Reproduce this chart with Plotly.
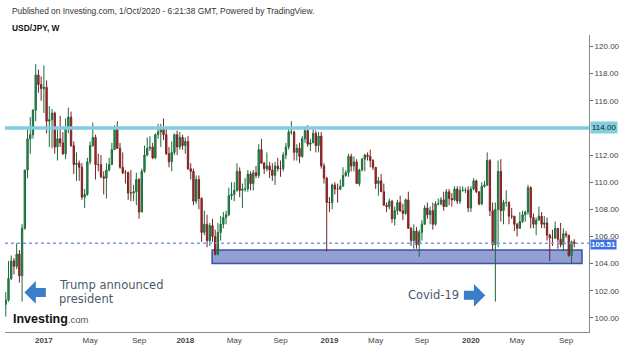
import pandas as pd
import plotly.graph_objects as go

# ---------------- data (weekly USD/JPY) ----------------
opens = [
    101.0, 101.3, 102.9, 104.2, 103.8, 104.7, 103.1, 106.6, 110.9, 113.2, 113.5, 115.3, 117.9, 117.2,
    116.9, 117.0, 114.5, 114.6, 115.1, 112.6, 113.2, 112.9, 112.1, 114.0, 114.8, 112.7, 111.3,
    111.4, 111.1, 108.9, 109.1, 111.5, 112.7, 113.3, 111.3, 111.3, 110.4, 110.3, 110.9, 111.3,
    112.4, 113.9, 112.5, 111.1, 110.7, 110.7, 109.2, 109.2, 109.3, 110.2, 107.8, 110.8, 112.0,
    112.5, 112.6, 111.8, 113.5, 113.7, 114.0, 113.5, 112.1, 111.5, 112.2, 113.5, 112.6, 113.3,
    112.7, 113.0, 111.0, 110.8, 108.6, 110.2, 108.8, 106.3, 106.9, 105.7, 106.8, 106.0, 104.7,
    106.3, 106.9, 107.4, 107.6, 109.0, 109.1, 109.4, 110.8, 109.4, 109.5, 109.5, 110.6, 109.9,
    110.7, 110.5, 112.4, 111.4, 111.0, 111.2, 110.9, 110.5, 111.2, 111.0, 111.0, 112.0, 112.6,
    113.7, 113.7, 112.2, 112.5, 111.9, 113.2, 113.8, 112.8, 112.9, 113.6, 112.7, 113.4, 111.2,
    110.3, 108.5, 108.5, 109.8, 109.5, 109.5, 109.7, 110.5, 110.7, 111.9, 111.2, 111.5, 109.9,
    110.9, 111.7, 112.0, 111.9, 111.6, 111.1, 109.9, 110.1, 109.3, 108.3, 108.2, 108.6, 107.3,
    107.9, 108.5, 107.9, 107.7, 108.7, 106.6, 105.7, 106.4, 105.4, 106.3, 106.9, 108.1, 107.6, 107.9,
    106.9, 108.4, 108.4, 108.7, 108.2, 109.3, 108.8, 108.7, 109.5, 108.6, 109.4, 109.4, 109.4,
    108.1, 109.5, 110.1, 109.3, 108.4, 109.7, 109.8, 111.6, 107.9, 105.4, 108.0, 110.8, 107.9,
    108.5, 108.5, 107.5, 107.5, 106.9, 106.6, 107.1, 107.6, 107.8, 109.6, 107.4, 106.9, 107.2,
    107.5, 106.9, 107.0, 106.1, 105.9, 105.9, 106.6, 105.8, 105.4, 106.2, 106.1, 104.6, 105.6,
]
highs = [
    101.9, 104.2, 104.6, 104.4, 105.5, 105.0, 106.9, 110.9, 113.9, 114.8, 115.4, 118.7, 118.3, 117.8,
    118.6, 117.5, 115.6, 115.4, 115.2, 113.9, 114.9, 113.7, 114.7, 115.5, 115.2, 113.0, 112.2,
    111.6, 111.4, 109.5, 111.8, 113.0, 114.4, 113.5, 112.1, 112.0, 110.8, 111.4, 111.8, 112.9,
    114.2, 114.5, 112.9, 112.2, 110.9, 110.8, 110.9, 109.8, 110.7, 110.3, 111.0, 112.7, 113.3,
    113.4, 112.9, 113.6, 114.3, 114.3, 114.7, 113.9, 112.6, 113.0, 113.6, 113.8, 113.7, 113.5,
    113.3, 113.4, 111.4, 111.0, 110.5, 110.5, 108.9, 107.9, 107.6, 107.0, 107.3, 106.5, 107.0,
    107.5, 107.8, 107.9, 109.6, 110.0, 110.0, 111.4, 111.1, 109.9, 110.3, 110.9, 110.8, 110.9,
    111.2, 112.8, 113.2, 111.5, 112.2, 111.5, 111.4, 111.5, 111.8, 111.6, 112.2, 112.9, 114.0,
    114.5, 113.8, 112.8, 112.9, 113.4, 114.1, 114.2, 113.2, 114.0, 113.8, 113.7, 113.7, 111.4,
    110.4, 108.9, 109.9, 110.0, 109.9, 110.2, 111.1, 110.9, 112.1, 112.1, 111.9, 111.7, 111.0,
    111.8, 112.1, 112.2, 112.4, 111.7, 111.1, 110.4, 110.6, 109.9, 108.5, 108.8, 108.7, 108.2,
    108.7, 109.0, 108.4, 108.8, 109.3, 106.7, 106.9, 106.7, 106.5, 107.2, 108.3, 108.5, 108.2, 108.5,
    108.6, 108.8, 108.9, 109.3, 109.5, 109.5, 109.2, 109.7, 109.7, 109.7, 109.7, 109.6, 109.7,
    109.7, 110.3, 110.2, 109.3, 110.0, 110.1, 112.2, 111.7, 108.5, 108.5, 111.6, 111.7, 108.7,
    109.4, 108.6, 108.1, 107.5, 107.0, 107.8, 107.9, 107.9, 109.8, 109.7, 107.7, 107.4, 108.2,
    107.8, 107.5, 107.4, 106.2, 106.5, 107.1, 106.6, 107.0, 106.6, 106.4, 106.1, 105.7, 105.8,
]
lows = [
    100.1, 101.2, 102.8, 103.2, 103.6, 102.6, 101.2, 106.5, 110.3, 112.1, 113.2, 114.5, 116.6, 116.0,
    115.1, 113.6, 112.6, 112.5, 112.1, 111.6, 112.6, 112.0, 111.7, 113.6, 112.6, 110.6, 110.1,
    110.1, 108.7, 108.1, 109.0, 111.3, 112.6, 110.2, 110.8, 110.3, 109.1, 108.8, 110.8, 111.3,
    112.4, 112.5, 111.0, 110.6, 109.9, 108.7, 108.6, 108.6, 108.3, 107.3, 107.8, 110.7, 111.9,
    112.3, 111.7, 111.7, 113.2, 112.6, 113.1, 112.0, 111.1, 110.8, 112.0, 112.0, 112.4, 112.4,
    112.1, 110.9, 110.2, 108.3, 108.4, 108.0, 105.6, 106.1, 105.2, 105.3, 105.6, 104.6, 104.6,
    105.7, 106.6, 106.9, 107.5, 108.7, 108.6, 109.3, 108.9, 108.1, 109.3, 109.3, 109.4, 109.4,
    110.3, 110.3, 111.4, 110.6, 110.8, 110.3, 110.1, 109.8, 110.8, 110.4, 110.8, 111.7, 112.4,
    113.5, 111.6, 111.6, 111.4, 111.8, 112.9, 112.6, 112.3, 112.9, 112.2, 112.2, 111.0, 109.9,
    104.9, 107.8, 108.0, 109.1, 108.5, 109.4, 109.7, 110.4, 110.4, 110.8, 110.8, 109.9, 109.7,
    110.8, 110.8, 111.6, 111.1, 110.9, 109.5, 109.0, 109.3, 108.3, 107.8, 108.0, 107.0, 106.8,
    107.6, 107.8, 107.2, 107.6, 106.6, 105.3, 105.1, 105.1, 104.5, 105.7, 106.9, 107.3, 106.9, 106.5,
    106.8, 108.3, 108.3, 107.9, 108.2, 108.3, 108.2, 108.6, 108.4, 108.4, 109.3, 109.2, 107.8,
    107.8, 109.4, 109.2, 108.3, 108.3, 109.6, 109.7, 107.5, 105.0, 101.2, 105.2, 107.1, 106.9,
    108.2, 106.9, 107.3, 106.4, 106.0, 106.6, 107.0, 107.1, 107.6, 106.6, 106.6, 106.1, 107.2,
    106.6, 106.6, 105.7, 104.2, 105.3, 105.8, 105.1, 105.2, 104.9, 105.9, 104.5, 104.0, 105.2,
]
closes = [
    101.3, 102.9, 104.2, 103.8, 104.7, 103.1, 106.6, 110.9, 113.2, 113.5, 115.3, 117.9, 117.2, 116.9,
    117.0, 114.5, 114.6, 115.1, 112.6, 113.2, 112.9, 112.1, 114.0, 114.8, 112.7, 111.3, 111.4,
    111.1, 108.9, 109.1, 111.5, 112.7, 113.3, 111.3, 111.3, 110.4, 110.3, 110.9, 111.3, 112.4,
    113.9, 112.5, 111.1, 110.7, 110.7, 109.2, 109.2, 109.3, 110.2, 107.8, 110.8, 112.0, 112.5,
    112.6, 111.8, 113.5, 113.7, 114.0, 113.5, 112.1, 111.5, 112.2, 113.5, 112.6, 113.3, 112.7,
    113.0, 111.0, 110.8, 108.6, 110.2, 108.8, 106.3, 106.9, 105.7, 106.8, 106.0, 104.7, 106.3,
    106.9, 107.4, 107.6, 109.0, 109.1, 109.4, 110.8, 109.4, 109.5, 109.5, 110.6, 109.9, 110.7,
    110.5, 112.4, 111.4, 111.0, 111.2, 110.9, 110.5, 111.2, 111.0, 111.0, 112.0, 112.6, 113.7,
    113.7, 112.2, 112.5, 111.9, 113.2, 113.8, 112.8, 112.9, 113.6, 112.7, 113.4, 111.2, 110.3,
    108.5, 108.5, 109.8, 109.5, 109.5, 109.7, 110.5, 110.7, 111.9, 111.2, 111.5, 109.9, 110.9,
    111.7, 112.0, 111.9, 111.6, 111.1, 109.9, 110.1, 109.3, 108.3, 108.2, 108.6, 107.3, 107.9,
    108.5, 107.9, 107.7, 108.7, 106.6, 105.7, 106.4, 105.4, 106.3, 106.9, 108.1, 107.6, 107.9, 106.9,
    108.4, 108.4, 108.7, 108.2, 109.3, 108.8, 108.7, 109.5, 108.6, 109.4, 109.4, 109.4, 108.1,
    109.5, 110.1, 109.3, 108.4, 109.7, 109.8, 111.6, 107.9, 105.4, 108.0, 110.8, 107.9, 108.5,
    108.5, 107.5, 107.5, 106.9, 106.6, 107.1, 107.6, 107.8, 109.6, 107.4, 106.9, 107.2, 107.5,
    106.9, 107.0, 106.1, 105.9, 105.9, 106.6, 105.8, 105.4, 106.2, 106.1, 104.6, 105.6, 105.51,
]
assert len(opens) == len(highs) == len(lows) == len(closes)

first_week = "2016-09-26"
x_tick_dates = ["2017-01-02", "2017-05-01", "2017-09-04", "2018-01-01", "2018-05-07", "2018-09-03",
                "2019-01-07", "2019-05-06", "2019-09-02", "2020-01-06", "2020-05-04", "2020-09-07"]
x_tick_labels = ["<b>2017</b>", "May", "Sep", "<b>2018</b>", "May", "Sep",
                 "<b>2019</b>", "May", "Sep", "<b>2020</b>", "May", "Sep"]
y_ticks = [100, 102, 104, 106, 108, 110, 112, 116, 118, 120]   # 114 is shown by its own box

resistance = 114.00
last_price = 105.51
zone_start, zone_end = "2018-03-11", "2020-10-18"
zone_low, zone_high = 104.0, 105.0

dates = pd.date_range(first_week, periods=len(closes), freq="W-MON")

# ---------------- figure ----------------
fig = go.Figure()
fig.add_trace(go.Candlestick(
    x=dates, open=opens, high=highs, low=lows, close=closes,
    increasing=dict(line=dict(color="#1c6b3c", width=1), fillcolor="#1f9a4c"),
    decreasing=dict(line=dict(color="#7a2222", width=1), fillcolor="#b3282d"),
    hoverinfo="skip", showlegend=False,
))

AX_FONT = dict(family="Liberation Sans, Arial, sans-serif", size=8, color="#444444")

fig.update_layout(
    width=625, height=350,
    margin=dict(l=5, r=31, t=35, b=15),
    paper_bgcolor="white", plot_bgcolor="white",
    showlegend=False,
    xaxis=dict(
        range=["2016-09-24", "2020-11-05"],
        rangeslider=dict(visible=False),
        showgrid=False, zeroline=False,
        showline=True, linecolor="#8a8a8a", linewidth=1,
        tickmode="array", tickvals=x_tick_dates, ticktext=x_tick_labels,
        ticks="", tickfont=AX_FONT,
    ),
    yaxis=dict(
        range=[98.96, 120.85], side="right",
        showgrid=False, zeroline=False,
        showline=True, linecolor="#8a8a8a", linewidth=1,
        tickmode="array", tickvals=y_ticks, tickformat=".2f",
        ticks="outside", ticklen=3, tickcolor="#666666",
        tickfont=AX_FONT,
    ),
)

# support zone
fig.add_shape(type="rect", xref="x", yref="y",
              x0=zone_start, x1=zone_end, y0=zone_low, y1=zone_high,
              fillcolor="rgba(55,80,175,0.55)", line=dict(color="#3a52a8", width=1.5),
              layer="below")
# resistance line
fig.add_shape(type="line", xref="paper", yref="y", x0=0, x1=1, y0=resistance, y1=resistance,
              line=dict(color="#7fcddf", width=3.5))
# last price dotted line
fig.add_shape(type="line", xref="paper", yref="y", x0=0, x1=1, y0=last_price, y1=last_price,
              line=dict(color="#8098ee", width=1.5, dash="dot"))

# price boxes on the axis
fig.add_annotation(xref="paper", yref="y", x=1, y=resistance, xanchor="left", yanchor="middle",
                   xshift=1, text="114.00", showarrow=False, bgcolor="#7fcfdf", borderpad=1,
                   font=dict(family="Liberation Sans, Arial, sans-serif", size=8, color="#1a1a1a"))
fig.add_annotation(xref="paper", yref="y", x=1, y=last_price, xanchor="left", yanchor="middle",
                   xshift=1, yshift=-1, text="<b>105.51</b>", showarrow=False, bgcolor="#3c6fe4",
                   borderpad=0,
                   font=dict(family="Liberation Sans, Arial, sans-serif", size=8, color="white"))

# header
fig.add_annotation(xref="paper", yref="paper", x=0, y=1, xshift=5, yshift=24,
                   xanchor="left", yanchor="middle", showarrow=False,
                   text="Published on Investing.com, 1/Oct/2020 - 6:21:38 GMT, Powered by TradingView.",
                   font=dict(family="Liberation Sans, Arial, sans-serif", size=8.4, color="#333333"))
fig.add_annotation(xref="paper", yref="paper", x=0, y=1, xshift=5, yshift=7,
                   xanchor="left", yanchor="middle", showarrow=False,
                   text="<b>USD/JPY, W</b>",
                   font=dict(family="Liberation Sans, Arial, sans-serif", size=8.4, color="#111111"))

# logo
fig.add_annotation(xref="paper", yref="paper", x=0, y=0, xshift=6, yshift=13,
                   xanchor="left", yanchor="middle", showarrow=False,
                   text="<b>Investing</b><span style='font-size:9.5px;color:#555555'>.com</span>",
                   font=dict(family="Liberation Sans, Arial, sans-serif", size=12.5, color="#111111"))

# event labels
TXT = dict(family="DejaVu Sans, Verdana, sans-serif", size=11.5, color="#4b5a6e")
fig.add_annotation(xref="paper", yref="paper", x=0, y=0, xshift=52, yshift=47,
                   xanchor="left", yanchor="middle", showarrow=False,
                   text="Trump announced", font=TXT)
fig.add_annotation(xref="paper", yref="paper", x=0, y=0, xshift=52, yshift=33,
                   xanchor="left", yanchor="middle", showarrow=False,
                   text="president", font=TXT)
fig.add_annotation(xref="paper", yref="paper", x=0, y=0, xshift=401, yshift=37,
                   xanchor="left", yanchor="middle", showarrow=False,
                   text="Covid-19", font=TXT)

# arrows (pixel-sized paths)
ARROW = "#3a7dc9"
left_arrow = "M0,0 L9,9 L9,3.5 L19,3.5 L19,-3.5 L9,-3.5 L9,-9 Z"
right_arrow = "M0,0 L-9,9 L-9,3.5 L-19,3.5 L-19,-3.5 L-9,-3.5 L-9,-9 Z"
fig.add_shape(type="path", xref="paper", yref="paper", xsizemode="pixel", ysizemode="pixel",
              xanchor=(26 - 5) / 589, yanchor=(335 - 295) / 300, path=left_arrow,
              fillcolor=ARROW, line=dict(color=ARROW, width=2))
fig.add_shape(type="path", xref="paper", yref="paper", xsizemode="pixel", ysizemode="pixel",
              xanchor=(488 - 5) / 589, yanchor=(335 - 298) / 300, path=right_arrow,
              fillcolor=ARROW, line=dict(color=ARROW, width=2))

fig.write_html("out.html")
